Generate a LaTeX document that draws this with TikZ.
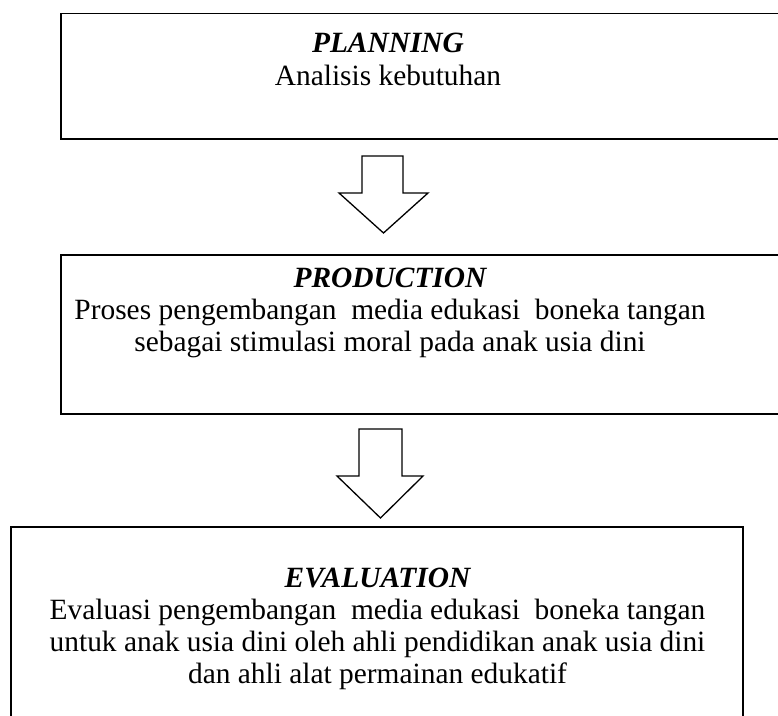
\documentclass[tikz,border=0pt]{standalone}
\usepackage{fontspec}
\setmainfont{Liberation Serif}
\begin{document}
\begin{tikzpicture}[x=1pt,y=-1pt,
  box/.style={draw=black,line width=1.8pt,rectangle,inner sep=0pt,fill=none},
  txt/.style={anchor=base,inner sep=0pt,font=\fontsize{29.4pt}{32pt}\selectfont},
  head/.style={txt,font=\fontsize{29.4pt}{32pt}\selectfont\bfseries\itshape},
  blockarrow/.style={draw=black,line width=1.3pt,fill=white,line join=miter}]
\useasboundingbox (0,0) rectangle (778,715);
\clip (0,0) rectangle (778,715);
% boxes
\node[box,minimum width=740pt,minimum height=125.5pt] (b1) at (430.7,76.25) {};
\node[box,minimum width=740pt,minimum height=159pt] (b2) at (430.7,334.5) {};
\node[box,minimum width=732pt,minimum height=210pt] (b3) at (377,632) {};
% texts
\node[head] (t1) at (388,52) {PLANNING};
\node[txt] (t1a) at (388,85) {Analisis kebutuhan};
\node[head] (t2) at (390,287) {PRODUCTION};
\node[txt] (t2a) at (390,319) {Proses pengembangan~ media edukasi~ boneka tangan};
\node[txt] (t2b) at (390,351) {sebagai stimulasi moral pada anak usia dini};
\node[head] (t3) at (377.5,587) {EVALUATION};
\node[txt] (t3a) at (377.5,619) {Evaluasi pengembangan~ media edukasi~ boneka tangan};
\node[txt] (t3b) at (377.5,651) {untuk anak usia dini oleh ahli pendidikan anak usia dini};
\node[txt] (t3c) at (377.5,683) {dan ahli alat permainan edukatif};
% block arrows
\coordinate (a1) at (383,156);
\draw[blockarrow] (362,156) -- (403,156) -- (403,193) -- (428,193) -- (383.5,233) -- (339,193) -- (362,193) -- cycle;
\coordinate (a2) at (380.5,429);
\draw[blockarrow] (359,429) -- (402,429) -- (402,476) -- (423,476) -- (380.5,518) -- (337,476) -- (359,476) -- cycle;
\end{tikzpicture}
\end{document}
